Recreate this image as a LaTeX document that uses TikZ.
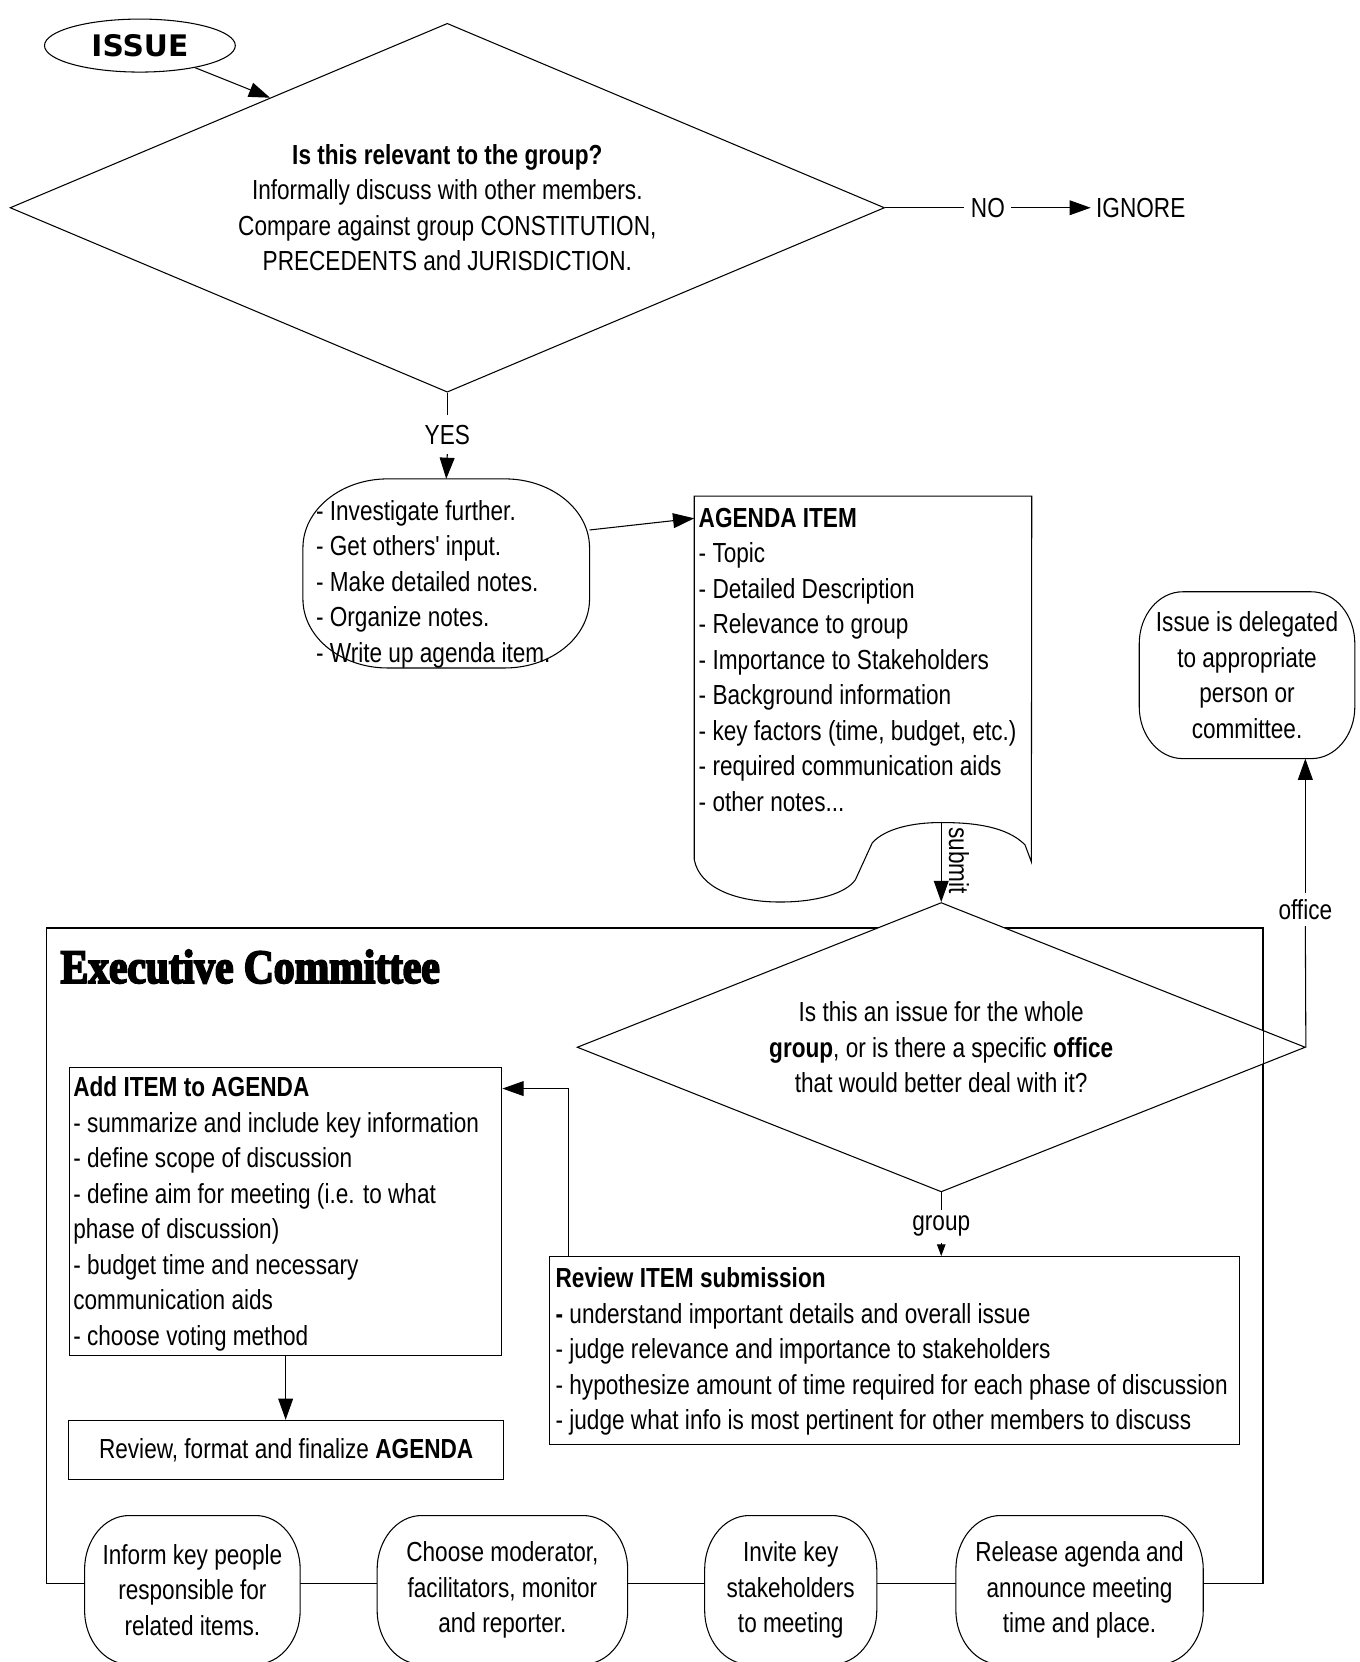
\documentclass[tikz,border=0pt]{standalone}
\usepackage{fontspec}
\setmainfont{Liberation Sans}[FakeStretch=0.82, Ligatures=TeXOff]
\newfontfamily\issuefont{DejaVu Sans}
\newfontfamily\titlefont{Liberation Serif}[FakeStretch=0.87, BoldFeatures={FakeBold=4}]
\usetikzlibrary{shapes.geometric, arrows.meta, calc, backgrounds}
\newcommand{\fsz}{\fontsize{26}{33.5}\selectfont}
\newcommand{\myebox}[3]{%
  \pgfmathsetlengthmacro{\eka}{0.448*#2}%
  \pgfmathsetlengthmacro{\ekb}{0.448*#3}%
  \begin{pgfonlayer}{background}
  \draw[line width=1pt, fill=white]
   ([xshift=#2pt]#1.north west) -- ([xshift=-#2pt]#1.north east)
   .. controls ([xshift=-\eka]#1.north east) and ([yshift=-\ekb]#1.north east) .. ([yshift=-#3pt]#1.north east)
   -- ([yshift=#3pt]#1.south east)
   .. controls ([yshift=\ekb]#1.south east) and ([xshift=-\eka]#1.south east) .. ([xshift=-#2pt]#1.south east)
   -- ([xshift=#2pt]#1.south west)
   .. controls ([xshift=\eka]#1.south west) and ([yshift=\ekb]#1.south west) .. ([yshift=#3pt]#1.south west)
   -- ([yshift=-#3pt]#1.north west)
   .. controls ([yshift=-\ekb]#1.north west) and ([xshift=\eka]#1.north west) .. ([xshift=#2pt]#1.north west) -- cycle;
  \end{pgfonlayer}}
\tikzset{
  lw/.style={line width=1pt},
  arrowline/.style={line width=1pt, -{Triangle[length=20pt,width=14pt]}},
  smallarrow/.style={line width=1pt, -{Triangle[length=11pt,width=8pt]}},
  lbl/.style={font=\fsz, inner sep=6pt},
  txt/.style={font=\fsz, align=left, inner sep=0pt},
  boxed/.style={draw, line width=1pt, inner sep=0pt},
  holder/.style={inner sep=0pt},
}
\begin{document}
\begin{tikzpicture}[x=1pt, y=-1pt]
\useasboundingbox (0,0) rectangle (1283,1568);
\begin{pgfonlayer}{background}
\fill[white] (0,0) rectangle (1283,1568);
\node[boxed, minimum width=1148pt, minimum height=618pt, anchor=north west] (frame) at (43,875) {};
\end{pgfonlayer}

% ISSUE
\node[ellipse, draw, line width=1pt, minimum width=180pt, minimum height=50pt, inner sep=0pt,
      font=\issuefont\bfseries\fontsize{28}{30}\selectfont] (issue) at (132,43) {ISSUE};

% first decision
\node[diamond, draw, line width=1pt, aspect=2.37, minimum width=825pt, minimum height=348pt,
      inner sep=0pt, align=center, font=\fsz] (d1) at (422,196)
  {\textbf{Is this relevant to the group?}\\Informally discuss with other members.\\Compare against group CONSTITUTION,\\PRECEDENTS and JURISDICTION.};
\coordinate (d1in) at ($(d1.north)!0.405!(d1.west)$);
\draw[arrowline] (issue) -- (d1in);

% NO / IGNORE
\node[lbl] (no) at (932,196) {NO};
\node[lbl, anchor=west, inner sep=5pt] (ignore) at (1029,196) {IGNORE};
\draw[lw] (d1.east) -- (no.west);
\draw[arrowline] (no.east) -- (ignore.west);

% YES
\node[lbl, inner sep=9pt] (yes) at (422,410) {YES};
\draw[lw] (d1.south) -- (yes.north);

% investigate
\node[holder, minimum width=270pt, minimum height=178pt] (inv) at (421,541) {};
\myebox{inv}{80}{65}
\node[txt, anchor=west] (invtxt) at (298,551)
  {- Investigate further.\\- Get others' input.\\- Make detailed notes.\\- Organize notes.\\- Write up agenda item.};
\draw[arrowline] (yes.south) -- (inv.north);

% agenda item document
\node[holder, minimum width=318pt, minimum height=383pt, anchor=north west] (agenda) at (655,468) {};
\coordinate (crest) at (888,776);
\draw[lw] (agenda.north west) -- (agenda.north east) -- (973,813) -- (967,797)
  .. controls (950,780) and (920,776) .. (888,776)
  .. controls (860,776) and (835,782) .. (823,795) -- (807,830)
  .. controls (798,843) and (770,851) .. (736,851)
  .. controls (695,851) and (660,838) .. (655,811) -- cycle;
\node[txt, anchor=west] (agendatxt) at (659,622.5)
  {\textbf{AGENDA ITEM}\\- Topic\\- Detailed Description\\- Relevance to group\\- Importance to Stakeholders\\- Background information\\- key factors (time, budget, etc.)\\- required communication aids\\- other notes...};
\draw[arrowline] ([yshift=41pt]inv.east) -- ([yshift=-21pt]agenda.north west);

% delegated
\node[holder, font=\fsz, align=center, minimum width=203pt, minimum height=157pt] (deleg) at (1176.5,637)
  {Issue is delegated\\to appropriate\\person or\\committee.};
\myebox{deleg}{41}{49}

% frame title
\node[anchor=west, inner sep=0pt, font=\titlefont\bfseries\fontsize{45}{50}\selectfont] (title) at (57,912) {Executive Committee};

% second decision
\node[diamond, draw, fill=white, line width=1pt, aspect=2.52, minimum width=687pt, minimum height=273pt,
      inner sep=0pt, align=center, font=\fsz] (d2) at (888,988)
  {Is this an issue for the whole\\\textbf{group}, or is there a specific \textbf{office}\\that would better deal with it?};
\draw[lw] (frame.north east) -- (frame.south east);
\draw[arrowline] (crest) -- (d2.north);
\node[rotate=-90, anchor=south, font=\fsz, inner sep=1pt] (submit) at (894,812) {submit};

% office
\node[lbl] (office) at (1231.5,858) {office};
\draw[lw] (d2.east) -- (office.south);
\draw[arrowline] (office.north) -- (office.north |- deleg.south);

% group
\node[lbl] (group) at (888,1157) {group};
\draw[lw] (d2.south) -- (group.north);
\node[boxed, minimum width=651pt, minimum height=177pt, anchor=north west] (review) at (518,1185) {};
\draw[smallarrow] (group.south) -- (group.south |- review.north);
\node[txt, anchor=west] (reviewtxt) at (524,1275)
  {\textbf{Review ITEM submission}\\\textbf{-} understand important details and overall issue\\- judge relevance and importance to stakeholders\\- hypothesize amount of time required for each phase of discussion\\- judge what info is most pertinent for other members to discuss};

% add item
\node[boxed, minimum width=408pt, minimum height=271pt, anchor=north west] (add) at (65,1007) {};
\node[txt, anchor=west] (addtxt) at (69,1145)
  {\textbf{Add ITEM to AGENDA}\\- summarize and include key information\\- define scope of discussion\\- define aim for meeting (i.e. to what\\phase of discussion)\\- budget time and necessary\\communication aids\\- choose voting method};
\draw[arrowline] ([xshift=18pt]review.north west) |- ([yshift=-20pt]add.north east);

% review agenda
\node[boxed, minimum width=410pt, minimum height=56pt, font=\fsz] (revag) at (270,1368) {Review, format and finalize \textbf{AGENDA}};
\draw[arrowline] (add.south) -- (add.south |- revag.north);

% bottom row
\node[holder, font=\fsz, align=center, minimum width=203pt, minimum height=140pt] (b1) at (181.5,1500)
  {Inform key people\\responsible for\\related items.};
\myebox{b1}{42}{51}
\node[holder, font=\fsz, align=center, minimum width=236pt, minimum height=140pt] (b2) at (474,1500)
  {Choose moderator,\\facilitators, monitor\\and reporter.};
\myebox{b2}{42}{51}
\node[holder, font=\fsz, align=center, minimum width=162pt, minimum height=140pt] (b3) at (746,1500)
  {Invite key\\stakeholders\\to meeting};
\myebox{b3}{42}{51}
\node[holder, font=\fsz, align=center, minimum width=233pt, minimum height=140pt] (b4) at (1018.5,1500)
  {Release agenda and\\announce meeting\\time and place.};
\myebox{b4}{42}{51}
\end{tikzpicture}
\end{document}
